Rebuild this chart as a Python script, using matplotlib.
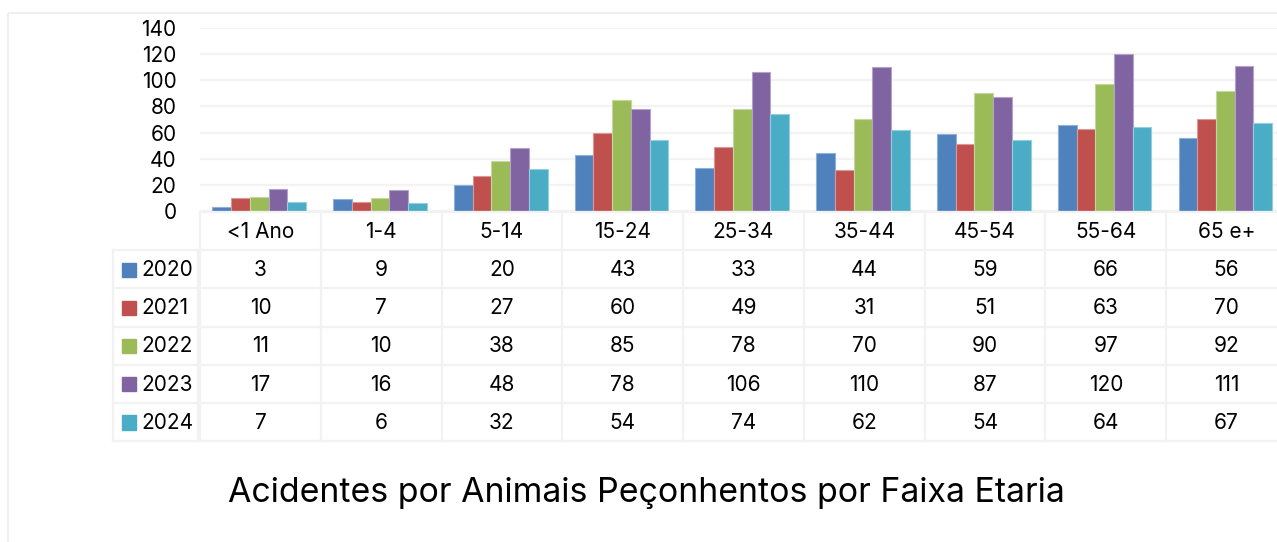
import matplotlib.pyplot as plt
import numpy as np

plt.rcParams['font.family'] = ['Inter', 'DejaVu Sans']

# faixas etarias e casos por ano
faixas = ['<1 Ano', '1-4', '5-14', '15-24', '25-34', '35-44', '45-54', '55-64', '65 e+']
anos = ['2020', '2021', '2022', '2023', '2024']
v2020 = [3, 9, 20, 43, 33, 44, 59, 66, 56]
v2021 = [10, 7, 27, 60, 49, 31, 51, 63, 70]
v2022 = [11, 10, 38, 85, 78, 70, 90, 97, 92]
v2023 = [17, 16, 48, 78, 106, 110, 87, 120, 111]
v2024 = [7, 6, 32, 54, 74, 62, 54, 64, 67]
series = [v2020, v2021, v2022, v2023, v2024]
cores = ['#4F81BD', '#C0504D', '#9BBB59', '#8064A2', '#4BACC6']
bordas = ['#8FB0D8', '#DB9896', '#C3D79E', '#B4A3C9', '#93CFDE']

W, H = 1277, 542
fig = plt.figure(figsize=(W / 100, H / 100), dpi=100)

def px(x0, y0, x1, y1):
    # pixel box (top-left origin) -> figure fraction
    return [x0 / W, 1 - y1 / H, (x1 - x0) / W, (y1 - y0) / H]

# moldura do grafico
frame = fig.add_axes([0, 0, 1, 1])
frame.set_xlim(0, W)
frame.set_ylim(H, 0)
frame.axis('off')
frame.add_patch(plt.Rectangle((8, 13), W + 20, H + 20, fill=False,
                              edgecolor='#EFEFEF', lw=1.5))

x0_plot, x1_plot = 200, 1287
ax = fig.add_axes(px(x0_plot, 28, x1_plot, 211))
n = len(faixas)
x = np.arange(n)
bw = 0.155
for i, (vals, c, e) in enumerate(zip(series, cores, bordas)):
    ax.bar(x + 0.5 + (i - 2) * bw - 0.01, vals, width=bw, color=c,
           edgecolor=e, linewidth=0.8, zorder=3)
ax.set_xlim(0, n)
ax.set_ylim(0, 140)
ax.set_yticks(range(0, 141, 20))
ax.tick_params(axis='y', length=0, labelsize=15, pad=17)
ax.set_xticks([])
ax.grid(axis='y', color='#F3F3F3', lw=1.6, zorder=0)
for s in ax.spines.values():
    s.set_visible(False)

# tabela de dados
tab = fig.add_axes(px(x0_plot, 212, x1_plot, 441))
tab.set_xlim(0, n)
tab.set_ylim(6, 0)
tab.axis('off')
lab_left = -0.72
lc = '#F2F2F2'
for j in range(n + 1):
    tab.plot([j, j], [0, 6], color=lc, lw=1.6, clip_on=False)
tab.plot([lab_left, lab_left], [1, 6], color=lc, lw=1.6, clip_on=False)
tab.plot([-0.02, -0.02], [1, 6], color=lc, lw=1.6, clip_on=False)
tab.plot([0, n], [0, 0], color=lc, lw=1.6, clip_on=False)
for r in range(1, 7):
    tab.plot([lab_left, n], [r, r], color=lc, lw=1.6, clip_on=False)

for j, f in enumerate(faixas):
    tab.text(j + 0.5, 0.52, f, ha='center', va='center', fontsize=15)
for r, (ano, vals, c) in enumerate(zip(anos, series, cores)):
    y = r + 1.52
    tab.add_patch(plt.Rectangle((lab_left + 0.075, y - 0.19), 0.115, 0.37,
                                color=c, clip_on=False))
    tab.text(lab_left + 0.235, y, ano, ha='left', va='center', fontsize=15)
    for j, v in enumerate(vals):
        tab.text(j + 0.5, y, str(v), ha='center', va='center', fontsize=15)

fig.text(646 / W, 1 - 493 / H, 'Acidentes por Animais Peçonhentos por Faixa Etaria',
         ha='center', va='center', fontsize=24.4)

fig.savefig('out.png', dpi=100, facecolor='white')
